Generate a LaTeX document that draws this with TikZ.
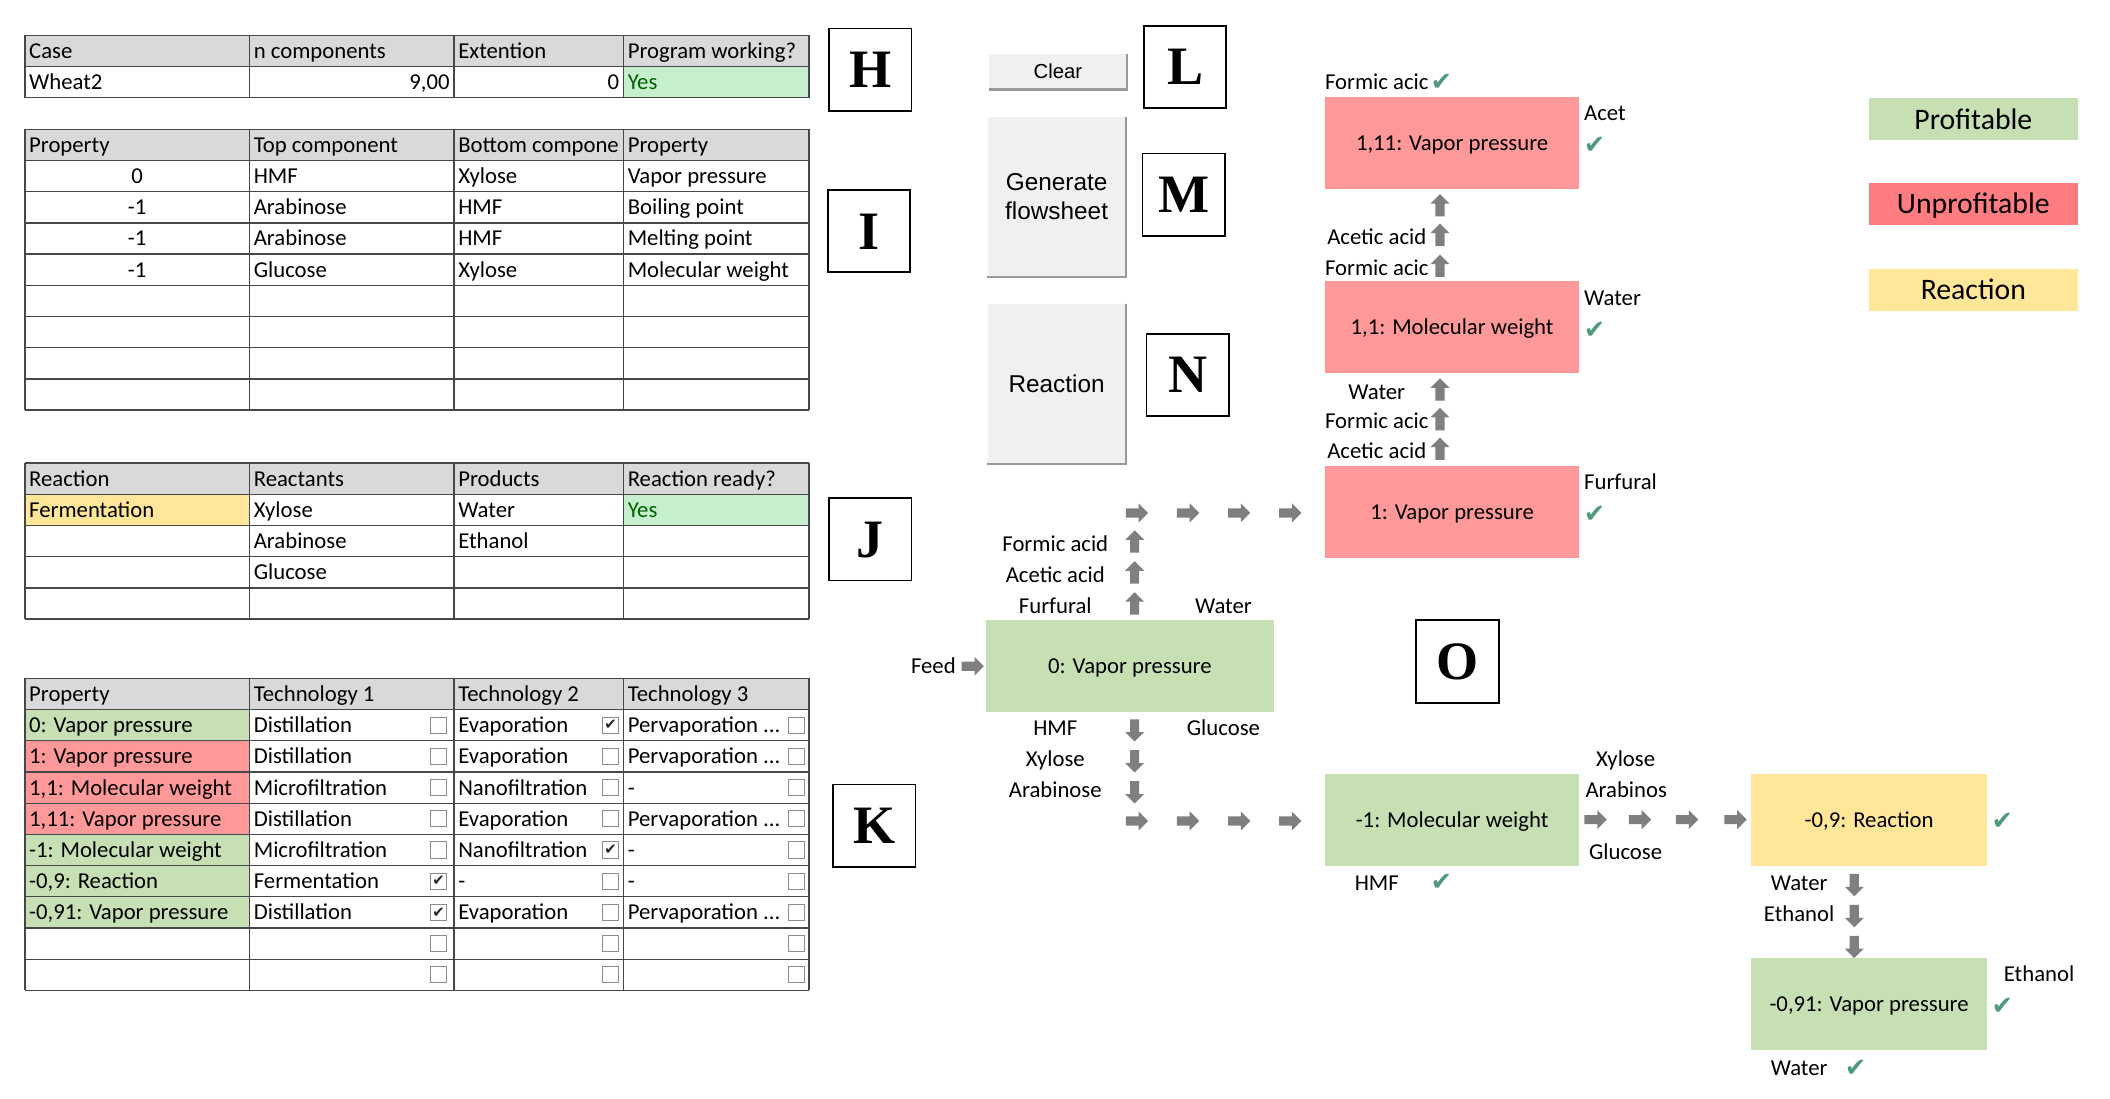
\documentclass[tikz,border=0pt]{standalone}
\usepackage{fontspec}
\setmainfont{Carlito}
\newfontfamily\btnfont{Liberation Sans}
\newfontfamily\tagfont{Liberation Serif}
\newfontfamily\symfont{DejaVu Sans}
\usepackage{pgf,tikz}
\usetikzlibrary{arrows, calc, shapes.arrows, positioning}

\definecolor{hdrgray}{HTML}{D9D9D9}
\definecolor{profit}{HTML}{C6E0B4}
\definecolor{loss}{HTML}{FF9999}
\definecolor{lossdark}{HTML}{FF7C80}
\definecolor{react}{HTML}{FFE699}
\definecolor{okfill}{HTML}{C6EFCE}
\definecolor{oktext}{HTML}{006100}
\definecolor{arrgray}{HTML}{7F7F7F}
\definecolor{tickgreen}{HTML}{4E9A7A}
\definecolor{btn}{HTML}{F0F0F0}
\newcommand\pervap{Pervaporation ...}

\begin{document}
\begin{tikzpicture}[x=0.9945pt, y=-0.9945pt, font=\fontsize{16.8}{20}\selectfont,
        cell/.style={anchor=west, inner sep=0pt, text height=14pt, text depth=3pt},
        lbl/.style={inner sep=0pt, text height=14pt, text depth=3pt},
        gridline/.style={draw=black!72, line width=1pt},
        rarr/.style={single arrow, fill=arrgray, inner sep=3.2pt, minimum height=16.5pt, single arrow head extend=3.6pt},
        uarr/.style={rarr, shape border rotate=90},
        darr/.style={rarr, shape border rotate=270},
        okmark/.style={font=\symfont\fontsize{19}{19}\selectfont, text=tickgreen, inner sep=0pt},
        fsbox/.style={minimum width=188pt, minimum height=68pt, inner sep=0pt, text height=11pt, text depth=0pt},
        tagbox/.style={draw, line width=1.3pt, minimum width=61pt, minimum height=61pt, inner sep=0pt, text height=26.5pt, text depth=0pt, font=\tagfont\bfseries\fontsize{40}{40}\selectfont},
        cbox/.style={draw=black!45, line width=0.8pt, minimum size=12pt, inner sep=0pt, fill=white},
        button/.style={fill=btn, inner sep=0pt, minimum width=102pt, font=\btnfont\fontsize{18}{21}\selectfont, align=center},
        btnedge/.style={draw=black!40, line width=1.6pt},
        legend/.style={minimum width=155pt, minimum height=31pt, inner sep=0pt, text height=14.2pt, text depth=0pt, font=\fontsize{22}{24}\selectfont}]
        \useasboundingbox (-0.5,-0.3) rectangle (1568.1,816.2);

        % tables
        \foreach \ty in {26, 95.8, 344, 504} {
            \fill[hdrgray] (18,\ty) rectangle (601,\ty+23.2);
        }
        \fill[okfill] (463,49.2) rectangle (601,72.4);
        \fill[okfill] (463,367.2) rectangle (601,390.4);
        \fill[react] (18,367.2) rectangle (185,390.4);
        \foreach \r/\c in {1/profit,2/loss,3/loss,4/loss,5/profit,6/profit,7/profit} {
            \fill[\c] (18,{504+\r*23.2}) rectangle (185,{504+(\r+1)*23.2});
        }
        \foreach \ty/\n in {26/2, 95.8/9, 344/5, 504/10} {
            \foreach \x in {18,185,337,463,601} {
                \draw[gridline] (\x,\ty) -- (\x,{\ty+\n*23.2});
            }
            \foreach \r in {0,...,\n} {
                \draw[gridline] (18,{\ty+\r*23.2}) -- (601,{\ty+\r*23.2});
            }
        }

        \foreach \x/\r/\t [count=\k] in {21/0/Case, 188/0/n components, 340/0/Extention, 466/0/Program working?, 21/1/Wheat2} {
            \node[cell] (h\k) at (\x,{26+(\r+.5)*23.2}) {\t};
        }
        \node[cell, anchor=east] (hn) at (334,60.8) {9,00};
        \node[cell, anchor=east] (hx) at (460,60.8) {0};
        \node[cell, text=oktext] (hyes) at (466,60.8) {Yes};

        \foreach \x/\r/\t [count=\k] in {21/0/Property, 188/0/Top component, 340/0/Bottom compone, 466/0/Property,
                188/1/HMF, 340/1/Xylose, 466/1/Vapor pressure, 188/2/Arabinose, 340/2/HMF, 466/2/Boiling point,
                188/3/Arabinose, 340/3/HMF, 466/3/Melting point, 188/4/Glucose, 340/4/Xylose, 466/4/Molecular weight} {
            \node[cell] (i\k) at (\x,{95.8+(\r+.5)*23.2}) {\t};
        }
        \foreach \r/\t [count=\k] in {1/0, 2/-1, 3/-1, 4/-1} {
            \node[cell, anchor=center] (ip\k) at (101.5,{95.8+(\r+.5)*23.2}) {\t};
        }

        \foreach \x/\r/\t [count=\k] in {21/0/Reaction, 188/0/Reactants, 340/0/Products, 466/0/Reaction ready?,
                21/1/Fermentation, 188/1/Xylose, 340/1/Water, 188/2/Arabinose, 340/2/Ethanol, 188/3/Glucose} {
            \node[cell] (j\k) at (\x,{344+(\r+.5)*23.2}) {\t};
        }
        \node[cell, text=oktext] (jyes) at (466,378.8) {Yes};

        \foreach \x/\r/\t [count=\k] in {21/0/Property, 188/0/Technology 1, 340/0/Technology 2, 466/0/Technology 3,
                21/1/0: Vapor pressure, 188/1/Distillation, 340/1/Evaporation, 466/1/\pervap,
                21/2/1: Vapor pressure, 188/2/Distillation, 340/2/Evaporation, 466/2/\pervap,
                21/3/{1,1: Molecular weight}, 188/3/Microfiltration, 340/3/Nanofiltration, 466/3/-,
                21/4/{1,11: Vapor pressure}, 188/4/Distillation, 340/4/Evaporation, 466/4/\pervap,
                21/5/-1: Molecular weight, 188/5/Microfiltration, 340/5/Nanofiltration, 466/5/-,
                21/6/{-0,9: Reaction}, 188/6/Fermentation, 340/6/-, 466/6/-,
                21/7/{-0,91: Vapor pressure}, 188/7/Distillation, 340/7/Evaporation, 466/7/\pervap} {
            \node[cell] (k\k) at (\x,{504+(\r+.5)*23.2}) {\t};
        }
        \foreach \r in {1,...,9} {
            \foreach \x [count=\c] in {325.5,453.5,591.5} {
                \node[cbox] (cb\r\c) at (\x,{504+(\r+.5)*23.2}) {};
            }
        }
        \foreach \b in {cb12, cb52, cb61, cb71} {
            \node[font=\symfont\fontsize{11}{11}\selectfont, text=black!85, inner sep=0pt] (m\b) at (\b) {✔};
        }

        % letters
        \foreach \x/\y/\t in {646.5/51.5/H, 645.5/171.5/I, 646.5/400.5/J, 649.5/613.5/K,
                880.5/49.5/L, 879.5/144.5/M, 882.5/278.5/N, 1083/491.5/O} {
            \node[tagbox] (tag\t) at (\x,\y) {\t};
        }

        % buttons
        \node[button, minimum height=26pt, font=\btnfont\fontsize{15}{17}\selectfont] (clear) at (786,53) {Clear};
        \node[button, minimum height=118pt] (gen) at (785,146) {Generate\\flowsheet};
        \node[button, minimum height=118pt] (reac) at (785,285) {Reaction};
        \foreach \b in {clear, gen, reac} {
            \draw[btnedge] (\b.north east) -- (\b.south east) -- (\b.south west);
        }

        % flowsheet
        \node[fsbox, fill=loss] (u111) at (1079,106) {1,11: Vapor pressure};
        \node[fsbox, fill=loss] (u11) at (1079,243) {1,1: Molecular weight};
        \node[fsbox, fill=loss] (u1) at (1079,380) {1: Vapor pressure};
        \node[fsbox, fill=profit, minimum width=213pt] (u0) at (839.5,494.5) {0: Vapor pressure};
        \node[fsbox, fill=profit] (um1) at (1079,609) {-1: Molecular weight};
        \node[fsbox, fill=react, minimum width=174pt] (um09) at (1389,609) {-0,9: Reaction};
        \node[fsbox, fill=profit, minimum width=174pt] (um091) at (1389,746) {-0,91: Vapor pressure};

        \node[rarr] (feedarr) at (721,495) {};
        \node[lbl, left=4pt of feedarr] (feed) {Feed};
        \foreach \x [count=\k] in {843,881,919,957} {
            \node[rarr] (ra\k) at (\x,381) {};
            \node[rarr] (rb\k) at (\x,610) {};
        }
        \foreach \x [count=\k] in {1184,1217,1252,1288} {
            \node[rarr] (rc\k) at (\x,609) {};
        }
        \foreach \y/\t [count=\k] in {404/Formic acid, 427/Acetic acid, 450/Furfural} {
            \node[uarr] (ua\k) at (843,\y) {};
            \node[lbl] (la\k) at (784,\y) {\t};
        }
        \foreach \y/\t [count=\k] in {541/HMF, 564/Xylose, 587/Arabinose} {
            \node[darr] (da\k) at (843,\y) {};
            \node[lbl] (ld\k) at (784,\y) {\t};
        }
        \node[lbl] (w0) at (909,450) {Water};
        \node[lbl] (g0) at (909,541) {Glucose};
        \foreach \y/\t [count=\k] in {335/Acetic acid, 313/Formic acic, 291/Water, 199/Formic acic, 176/Acetic acid, 154/} {
            \node[uarr] (ub\k) at (1070,\y) {};
            \node[lbl] (lb\k) at (1023,\y) {\t};
        }
        \node[lbl] (ftop) at (1023,61) {Formic acic};
        \node[okmark] (oktop) at (1071,61) {✔};
        \foreach \y/\t [count=\k] in {84/Acet, 221/Water, 358/Furfural} {
            \node[cell] (rl\k) at (1177,\y) {\t};
            \node[okmark] (ok\k) at (1185,\y+24) {✔};
        }
        \node[lbl] (hmf) at (1023,656) {HMF};
        \node[okmark] (okhmf) at (1071,656) {✔};
        \node[lbl] (xy) at (1208,564) {Xylose};
        \node[cell] (ar) at (1178,587) {Arabinos};
        \node[lbl] (gl) at (1208,633) {Glucose};
        \node[okmark] (okre) at (1488,610) {✔};
        \foreach \y/\t [count=\k] in {656/Water, 679/Ethanol, 702/} {
            \node[darr] (dc\k) at (1378,\y) {};
            \node[lbl] (lc\k) at (1337,\y) {\t};
        }
        \node[cell] (eth) at (1489,724) {Ethanol};
        \node[okmark] (oketh) at (1488,748) {✔};
        \node[lbl] (wat) at (1337,794) {Water};
        \node[okmark] (okwat) at (1379,794) {✔};

        % legend
        \node[legend, fill=profit] (lgp) at (1466.5,88.5) {Profitable};
        \node[legend, fill=lossdark] (lgu) at (1466.5,151.5) {Unprofitable};
        \node[legend, fill=react] (lgr) at (1466.5,215) {Reaction};
    \end{tikzpicture}
\end{document}
